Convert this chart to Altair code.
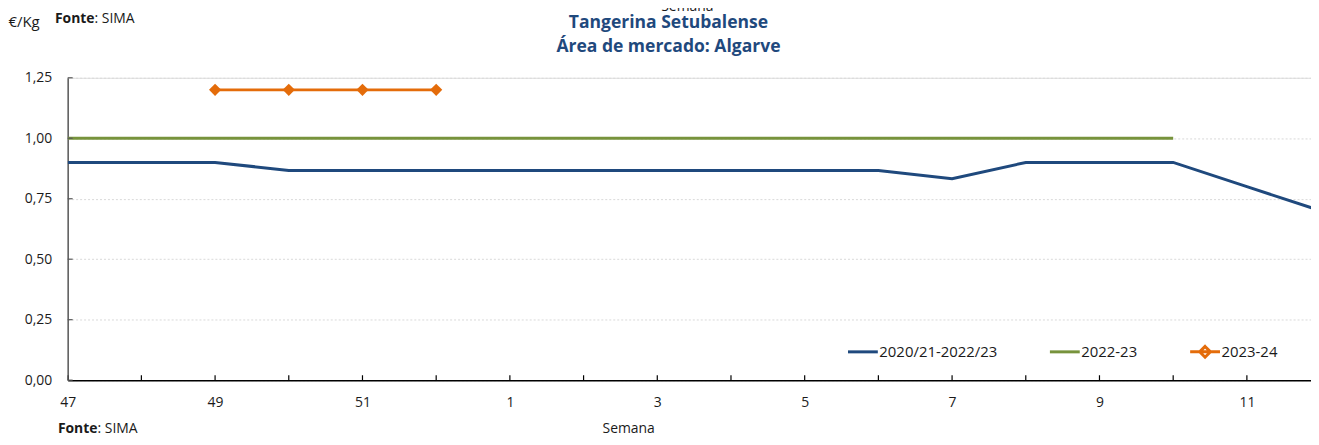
import altair as alt
import pandas as pd

# ---- data ----
weeks = [47, 48, 49, 50, 51, 52, 1, 2, 3, 4, 5, 6, 7, 8, 9, 10, 11, 12]
avg_2021_2223 = [0.90, 0.90, 0.90, 0.867, 0.867, 0.867, 0.867, 0.867, 0.867,
                 0.867, 0.867, 0.867, 0.833, 0.90, 0.90, 0.90, 0.80, 0.70]
s_2223 = [1.00, 1.00, 1.00, 1.00, 1.00, 1.00, 1.00, 1.00, 1.00,
          1.00, 1.00, 1.00, 1.00, 1.00, 1.00, 1.00, None, None]
s_2324 = [None, None, 1.20, 1.20, 1.20, 1.20, None, None, None,
          None, None, None, None, None, None, None, None, None]
series_names = ["2020/21-2022/23", "2022-23", "2023-24"]
series_colors = ["#1F497D", "#77933C", "#E46C0A"]
y_ticks = [0.0, 0.25, 0.50, 0.75, 1.00, 1.25]

rows = []
for name, vals in zip(series_names, [avg_2021_2223, s_2223, s_2324]):
    for i, (w, v) in enumerate(zip(weeks, vals)):
        if v is not None:
            rows.append({"idx": i, "week": w, "value": v, "series": name})
df = pd.DataFrame(rows)
xticks_df = pd.DataFrame({"idx": list(range(len(weeks)))})
yticks_df = pd.DataFrame({"value": y_ticks})

FONT = "Open Sans"
W, H = 1250, 304
X_MAX = 16.87

week_arr = "[" + ",".join("'%s'" % w for w in weeks) + "]"
x_enc = alt.X(
    "idx:Q",
    scale=alt.Scale(domain=[0, X_MAX], nice=False, zero=False),
    axis=alt.Axis(
        values=list(range(0, len(weeks), 2)),
        labelExpr=week_arr + "[datum.value]",
        labelFlush=False,
        ticks=False, grid=False, domainColor="#000000", domainWidth=1.5,
        labelFont=FONT, labelFontSize=14, labelColor="#1a1a1a",
        labelPadding=15, title=None,
    ),
)
y_enc = alt.Y(
    "value:Q",
    scale=alt.Scale(domain=[0, 1.25], nice=False),
    axis=alt.Axis(
        values=y_ticks,
        labelExpr="replace(format(datum.value, '.2f'), '.', ',')",
        ticks=False, grid=True, gridColor="#d9d9d9", gridDash=[2, 2], gridWidth=1,
        domainColor="#595959", domainWidth=1.5,
        labelFont=FONT, labelFontSize=14, labelColor="#1a1a1a", labelPadding=16,
        title="€/Kg", titleAngle=0, titleAlign="left", titleBaseline="alphabetic",
        titleX=-60, titleY=-52, titleFont=FONT, titleFontSize=15,
        titleFontWeight="normal", titleColor="#1a1a1a",
    ),
)

legend = alt.Legend(
    orient="none", legendX=783, legendY=259, direction="horizontal", title=None,
    symbolType=alt.ExprRef(
        "datum.label == '2023-24' ? "
        "'M-1,0L1,0M0,-0.36L0.36,0L0,0.36L-0.36,0Z' : "
        "'M-1,0L1,0M0,-0.36L0,-0.36M0,0.36L0,0.36'"
    ),
    symbolSize=900, symbolStrokeWidth=3, labelFont=FONT, labelFontSize=15,
    labelColor="#1a1a1a", labelOffset=0, columnPadding=46, padding=0,
)

lines = alt.Chart(df).mark_line(clip=True).encode(
    x=x_enc, y=y_enc,
    color=alt.Color("series:N", scale=alt.Scale(domain=series_names, range=series_colors),
                    legend=legend),
    strokeWidth=alt.StrokeWidth("series:N",
                                scale=alt.Scale(domain=series_names, range=[3, 3, 2.5]),
                                legend=None),
)
points = alt.Chart(df).transform_filter(
    alt.datum.series == series_names[2]
).mark_point(shape="diamond", filled=True, size=150, color=series_colors[2],
             opacity=1, clip=True).encode(x=x_enc, y=y_enc)

xticks = alt.Chart(xticks_df).mark_rule(color="#000000", strokeWidth=1.2, clip=True).encode(
    x=x_enc, y=alt.value(H), y2=alt.value(H - 5))
yticks = alt.Chart(yticks_df).mark_rule(color="#595959", strokeWidth=1.2).encode(
    y=y_enc, x=alt.value(0), x2=alt.value(5))


def text(txt, x, y, size=14, weight="normal", align="left", color="#1a1a1a"):
    return alt.Chart(alt.Data(values=[{}])).mark_text(
        font=FONT, fontSize=size, fontWeight=weight, align=align,
        baseline="alphabetic", color=color,
    ).encode(x=alt.value(x), y=alt.value(y), text=alt.value(txt))


annotations = [
    text("Semana", 623, -67, align="center"),
    text("Fonte", 27, -55, weight="bold", align="right"),
    text(": SIMA", 27, -55),
    text("Tangerina Setubalense", 604, -50, size=17.6, weight="bold", align="center",
         color="#1F497D"),
    text("Área de mercado: Algarve", 604, -26, size=17.6, weight="bold", align="center",
         color="#1F497D"),
    text("Semana", 564, 357, align="center"),
    text("Fonte", 30, 357, weight="bold", align="right"),
    text(": SIMA", 30, 357),
]

chart = alt.layer(lines, points, xticks, yticks, *annotations).properties(
    width=W, height=H,
    autosize=alt.AutoSizeParams(type="none"),
    padding={"left": 60, "top": 69, "right": 0, "bottom": 56},
).configure_view(stroke=None).configure(background="white")

chart.save("out.html", embed_options={"renderer": "svg", "actions": False})
